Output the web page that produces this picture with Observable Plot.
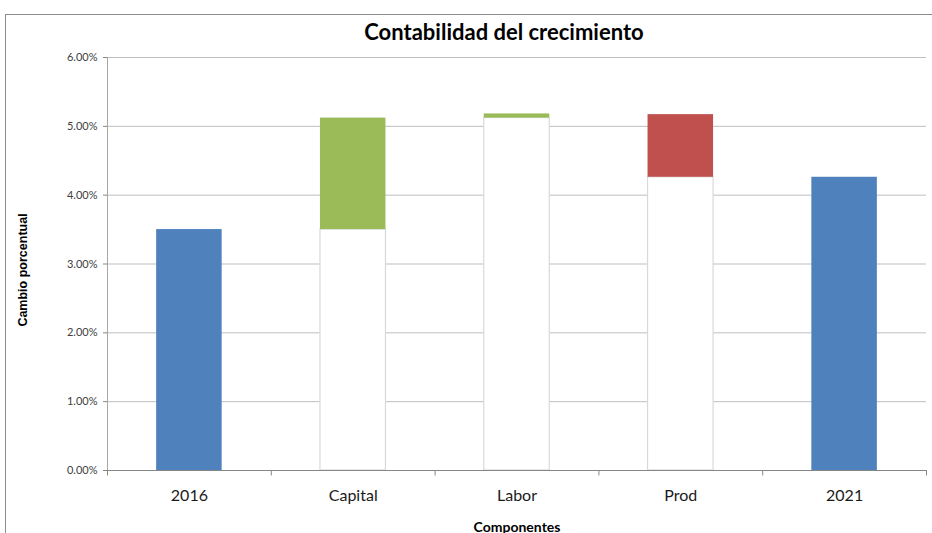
<!DOCTYPE html>
<html>
<head>
<meta charset="utf-8">
<script src="https://cdn.jsdelivr.net/npm/d3@7"></script>
<script src="https://cdn.jsdelivr.net/npm/@observablehq/plot@0.6"></script>
<style>
  html, body { margin: 0; padding: 0; background: #fff; }
  #wrap { position: relative; width: 932px; height: 533px; overflow: hidden; font-family: Lato, "Open Sans", sans-serif; }
  #border { position: absolute; left: 5px; top: 14px; width: 960px; height: 560px; border: 1px solid #8c8c8c; box-sizing: border-box; }
  #title { position: absolute; top: 18px; left: 0; width: 1008px; text-align: center; font-size: 22px; font-weight: bold; color: #000; }
  #chart { position: absolute; left: 0; top: 45px; }
</style>
</head>
<body>
<div id="wrap">
  <div id="border"></div>
  <div id="title">Contabilidad del crecimiento</div>
  <div id="chart"></div>
</div>
<script>
const categories = ["2016", "Capital", "Labor", "Prod", "2021"];
const lowValues  = [0, 3.50, 5.12, 4.26, 0];
const highValues = [3.50, 5.12, 5.18, 5.17, 4.26];
const barKinds   = ["total", "increase", "increase", "decrease", "total"];
const yTicks     = [0, 1, 2, 3, 4, 5, 6];

const kindColors = { total: "#4F81BD", increase: "#9BBB59", decrease: "#C0504D" };

const rows = categories.map((c, i) => ({ cat: c, low: lowValues[i], high: highValues[i], kind: barKinds[i] }));
const floating = rows.filter(d => d.kind !== "total");

const W = 932, H = 488, ML = 107, MR = 6, MT = 12, MB = 63;
const step = (W - ML - MR) / categories.length;

const chart = Plot.plot({
  width: W, height: H,
  marginLeft: ML, marginRight: MR, marginTop: MT, marginBottom: MB,
  style: { fontFamily: "Lato, 'Open Sans', sans-serif", background: "transparent", overflow: "visible" },
  x: { domain: categories, paddingInner: 0.6, paddingOuter: 0.3, round: false, label: null },
  y: { domain: [0, 6], label: null },
  marks: [
    Plot.gridY(yTicks, { stroke: "#bfbfbf", strokeOpacity: 1 }),
    Plot.axisY(yTicks, { tickFormat: d => d.toFixed(2) + "%", tickSize: 4, tickPadding: 6, fontSize: 11, color: "#404040", stroke: "#868686", label: null }),
    Plot.axisX({ tickSize: 0, tickPadding: 19, fontSize: 16, color: "#1a1a1a", label: null }),
    Plot.ruleX([categories[0]], { x: d => d, dx: -step / 2, y1: 0, y2: 6, stroke: "#a6a6a6" }),
    Plot.ruleX(categories, { x: d => d, dx: -step / 2, y1: 0, y2: -0.08, stroke: "#868686" }),
    Plot.ruleX([categories[categories.length - 1]], { x: d => d, dx: step / 2, y1: 0, y2: -0.08, stroke: "#868686" }),
    Plot.barY(floating, { x: "cat", y1: 0, y2: "low", fill: "#fff", stroke: "#d9d9d9", strokeWidth: 1.2 }),
    Plot.barY(rows, { x: "cat", y1: "low", y2: "high", fill: d => kindColors[d.kind] }),
    Plot.ruleY([0], { stroke: "#868686" }),
    Plot.text(["Cambio porcentual"], { frameAnchor: "left", rotate: -90, dx: -85, dy: 6, textAnchor: "middle", fontFamily: "'Liberation Sans', Arial, sans-serif", fontWeight: "bold", fontSize: 12.5, fill: "#000" }),
    Plot.text(["Componentes"], { frameAnchor: "bottom", dy: 61, textAnchor: "middle", fontWeight: "bold", fontSize: 14, fill: "#000" })
  ]
});
document.getElementById("chart").appendChild(chart);
</script>
</body>
</html>
